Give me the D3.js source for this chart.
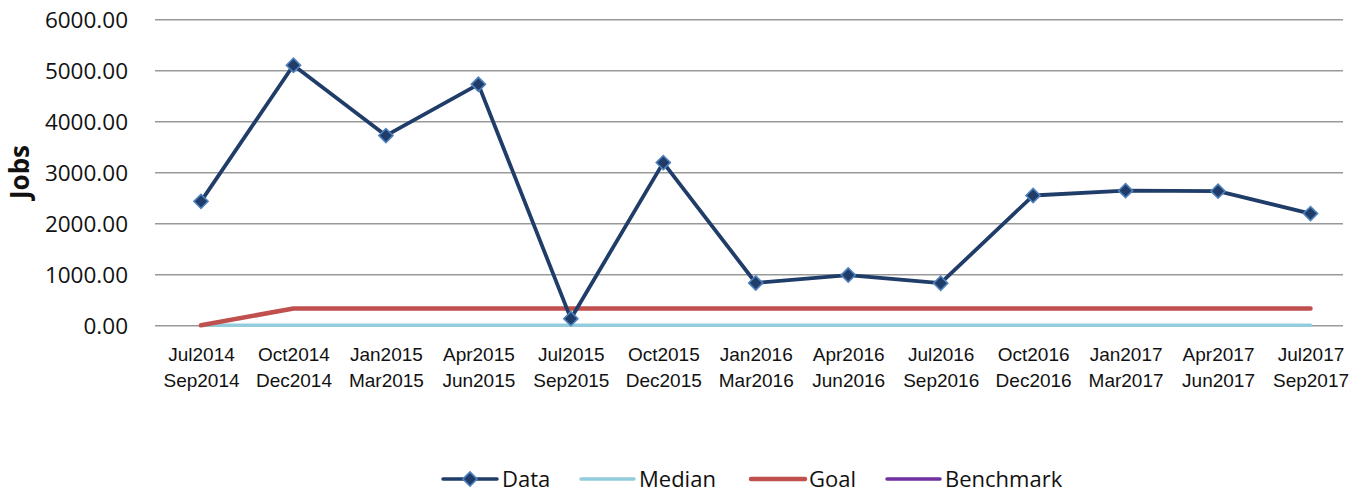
<!DOCTYPE html>
<html>
<head>
<meta charset="utf-8">
<script src="https://cdn.jsdelivr.net/npm/d3@7"></script>
<style>
  body { margin: 0; background: #fff; }
  svg { display: block; font-family: "Open Sans", sans-serif; }
</style>
</head>
<body>
<div id="chart"></div>
<script>
// quarters on the x axis (two lines each)
const quarters = [
    ["Jul2014", "Sep2014"], ["Oct2014", "Dec2014"], ["Jan2015", "Mar2015"],
    ["Apr2015", "Jun2015"], ["Jul2015", "Sep2015"], ["Oct2015", "Dec2015"],
    ["Jan2016", "Mar2016"], ["Apr2016", "Jun2016"], ["Jul2016", "Sep2016"],
    ["Oct2016", "Dec2016"], ["Jan2017", "Mar2017"], ["Apr2017", "Jun2017"],
    ["Jul2017", "Sep2017"]
];
const dataValues = [2430, 5100, 3720, 4725, 130, 3190, 830, 985, 825, 2545, 2640, 2630, 2190];
const medianValues = [0, 0, 0, 0, 0, 0, 0, 0, 0, 0, 0, 0, 0];
const goalValues = [0, 330, 330, 330, 330, 330, 330, 330, 330, 330, 330, 330, 330];
const benchmarkValues = [null, null, null, null, null, null, null, null, null, null, null, null, null];
const yTicks = [0, 1000, 2000, 3000, 4000, 5000, 6000];

const width = 1353, height = 492;
const plot = { left: 155, right: 1343, top: 19.3, bottom: 325.3 };

const svg = d3.select("#chart").append("svg")
    .attr("width", width)
    .attr("height", height);

const keys = quarters.map(q => q.join(" "));

const x = d3.scalePoint()
    .domain(keys)
    .range([201, 1310.5]);

const y = d3.scaleLinear()
    .domain([0, 6000])
    .range([plot.bottom, plot.top]);

// Y axis + gridlines
const yAxis = svg.append("g")
    .attr("transform", `translate(${plot.left},0)`)
    .call(d3.axisLeft(y)
        .tickValues(yTicks)
        .tickFormat(d3.format(".2f"))
        .tickSize(-(plot.right - plot.left))
        .tickPadding(27));
yAxis.select(".domain").remove();
yAxis.selectAll(".tick line").attr("stroke", "#999").attr("stroke-width", 1.6);
yAxis.selectAll(".tick text")
    .attr("font-family", "Open Sans")
    .attr("font-size", "22.5px")
    .attr("fill", "#111")
    .attr("dy", "0.36em");

// Y title
svg.append("text")
    .attr("transform", "translate(29,172) rotate(-90)")
    .attr("text-anchor", "middle")
    .attr("font-size", "26px")
    .attr("font-weight", "bold")
    .attr("fill", "#111")
    .text("Jobs");

// X labels
const xAxis = svg.append("g")
    .attr("transform", `translate(0,${plot.bottom})`)
    .call(d3.axisBottom(x).tickSize(0).tickFormat(() => ""));
xAxis.select(".domain").remove();
xAxis.selectAll(".tick text").remove();
xAxis.selectAll(".tick").each(function(d, i) {
    const t = d3.select(this).append("text")
        .attr("text-anchor", "middle")
        .attr("font-size", "19px")
        .attr("fill", "#111");
    t.append("tspan").attr("x", 0).attr("y", 35.7).text(quarters[i][0]);
    t.append("tspan").attr("x", 0).attr("y", 61.4).text(quarters[i][1]);
});

const line = d3.line()
    .defined(d => d != null)
    .x((d, i) => x(keys[i]))
    .y(d => y(d));

const series = [
    { name: "Benchmark", values: benchmarkValues, color: "#7030A0", w: 3.5 },
    { name: "Median", values: medianValues, color: "#93CDDD", w: 3.5 },
    { name: "Goal", values: goalValues, color: "#C0504D", w: 4.5 },
    { name: "Data", values: dataValues, color: "#1F3D68", w: 3.8 }
];

series.forEach(s => {
    svg.append("path")
        .datum(s.values)
        .attr("fill", "none")
        .attr("stroke", s.color)
        .attr("stroke-width", s.w)
        .attr("stroke-linecap", "round")
        .attr("stroke-linejoin", "round")
        .attr("d", line);
});

// Diamond markers for Data
const diamond = d3.symbol().type(d3.symbolSquare).size(100);
svg.selectAll("path.marker")
    .data(dataValues)
    .enter()
    .append("path")
    .attr("class", "marker")
    .attr("d", diamond)
    .attr("transform", (d, i) => `translate(${x(keys[i])},${y(d)}) rotate(45)`)
    .attr("fill", "#1F3D68")
    .attr("stroke", "#4F81BD")
    .attr("stroke-width", 1.6);

// Legend
const legendItems = [
    { name: "Data", color: "#1F3D68", x1: 443, x2: 497, tx: 502, marker: true, w: 3.5 },
    { name: "Median", color: "#93CDDD", x1: 581, x2: 634, tx: 639, w: 3.5 },
    { name: "Goal", color: "#C0504D", x1: 751, x2: 805, tx: 809, w: 4.5 },
    { name: "Benchmark", color: "#7030A0", x1: 887, x2: 940, tx: 945, w: 3.5 }
];
const legend = svg.append("g");
legendItems.forEach(it => {
    legend.append("line")
        .attr("x1", it.x1).attr("x2", it.x2)
        .attr("y1", 479).attr("y2", 479)
        .attr("stroke", it.color)
        .attr("stroke-width", it.w)
        .attr("stroke-linecap", "round");
    if (it.marker) {
        legend.append("path")
            .attr("d", diamond)
            .attr("transform", `translate(${(it.x1 + it.x2) / 2},479) rotate(45)`)
            .attr("fill", "#1F3D68")
            .attr("stroke", "#4F81BD")
            .attr("stroke-width", 1.6);
    }
    legend.append("text")
        .attr("x", it.tx)
        .attr("y", 487)
        .attr("font-size", "22px")
        .attr("fill", "#111")
        .text(it.name);
});
</script>
</body>
</html>
